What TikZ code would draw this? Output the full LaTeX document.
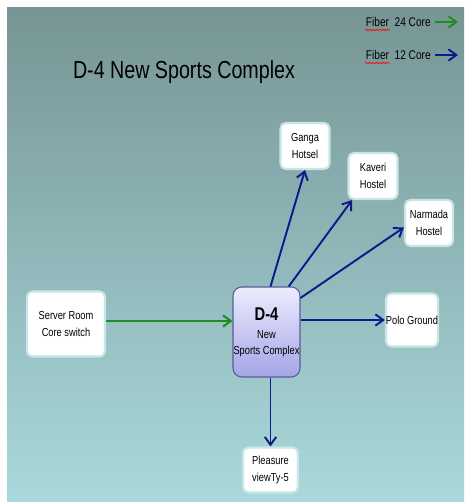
\documentclass[tikz,border=0pt]{standalone}
\usepackage{fontspec}
\setmainfont{Liberation Sans}[FakeStretch=0.8]
\usetikzlibrary{arrows.meta,decorations.pathmorphing}
\definecolor{bgtop}{HTML}{779595}
\definecolor{bgbot}{HTML}{A9D9DC}
\definecolor{fibgreen}{HTML}{1E8C1E}
\definecolor{fibblue}{HTML}{0D1A8C}
\definecolor{boxrim}{HTML}{C8E6E6}
\definecolor{lavtop}{HTML}{ECECFF}
\definecolor{lavbot}{HTML}{A4A4E6}
\definecolor{lavrim}{HTML}{5A5A9C}
\begin{document}
\begin{tikzpicture}[x=0.02cm,y=-0.02cm,
    hostbox/.style={fill=white,draw=boxrim,line width=1.2pt,rounded corners=3pt,
        inner sep=0pt,align=center,font=\fontsize{6.6}{9.6}\selectfont},
    d4box/.style={top color=lavtop,bottom color=lavbot,draw=lavrim,line width=0.6pt,
        rounded corners=5pt,inner sep=0pt,align=center,font=\fontsize{6.6}{9.2}\selectfont,
        minimum width=1.34cm,minimum height=1.8cm},
    fiber24/.style={-{Straight Barb[length=4.5pt,width=6.5pt]},line width=1.1pt,fibgreen},
    fiber12/.style={-{Straight Barb[length=4.5pt,width=6.5pt]},line width=1.1pt,fibblue}]
\fill[white] (0,0) rectangle (464,502);
\shade[top color=bgtop,bottom color=bgbot] (7,8) rectangle (464,502);

\node (title) at (184,72) {\fontsize{14}{16}\selectfont D-4 New Sports Complex};
\node (leg24) [anchor=east,inner sep=0pt,font=\fontsize{7.2}{8}\selectfont] at (431,22) {Fiber\ \ 24 Core};
\node (leg12) [anchor=east,inner sep=0pt,font=\fontsize{7.2}{8}\selectfont] at (431,55) {Fiber\ \ 12 Core};
\coordinate (end24) at (458,22);
\coordinate (end12) at (458,55);
\draw[fiber24] (leg24.east) ++(4,0) -- (end24);
\draw[fiber12] (leg12.east) ++(4,0) -- (end12);
\draw[red,line width=0.4pt,decorate,decoration={snake,amplitude=0.4pt,segment length=2pt}] (365,30) -- (390,30);
\draw[red,line width=0.4pt,decorate,decoration={snake,amplitude=0.4pt,segment length=2pt}] (365,63) -- (390,63);

\node[hostbox,minimum width=0.98cm,minimum height=0.92cm] (ganga) at (305,146) {Ganga\\Hotsel};
\node[hostbox,minimum width=0.98cm,minimum height=0.92cm] (kaveri) at (373,176) {Kaveri\\Hostel};
\node[hostbox,minimum width=0.96cm,minimum height=0.92cm] (narmada) at (429,223) {Narmada\\Hostel};
\node[hostbox,minimum width=1.56cm,minimum height=1.3cm] (server) at (66,324) {Server Room\\Core switch};
\node[hostbox,minimum width=1.0cm,minimum height=1.06cm] (polo) at (412,320) {Polo Ground};
\node[hostbox,minimum width=1.1cm,minimum height=0.9cm] (pleasure) at (270.5,470) {Pleasure\\viewTy-5};
\node[d4box] (d4) at (266.5,332) {{\fontsize{10.5}{12}\selectfont\bfseries D-4}\\[1pt]New\\Sports Complex};

\draw[fiber24] (server.east) ++(0,-3) -- (d4.west |- 0,321);
\draw[fiber12] (d4.85) -- (ganga.south);
\draw[fiber12] (d4.64) -- (kaveri.229);
\draw[fiber12] (d4.45) -- (narmada.190);
\draw[fiber12] (d4.east |- polo.west) -- (polo.west);
\draw[fiber12] (pleasure.north |- d4.south) -- (pleasure.north);
\end{tikzpicture}
\end{document}
